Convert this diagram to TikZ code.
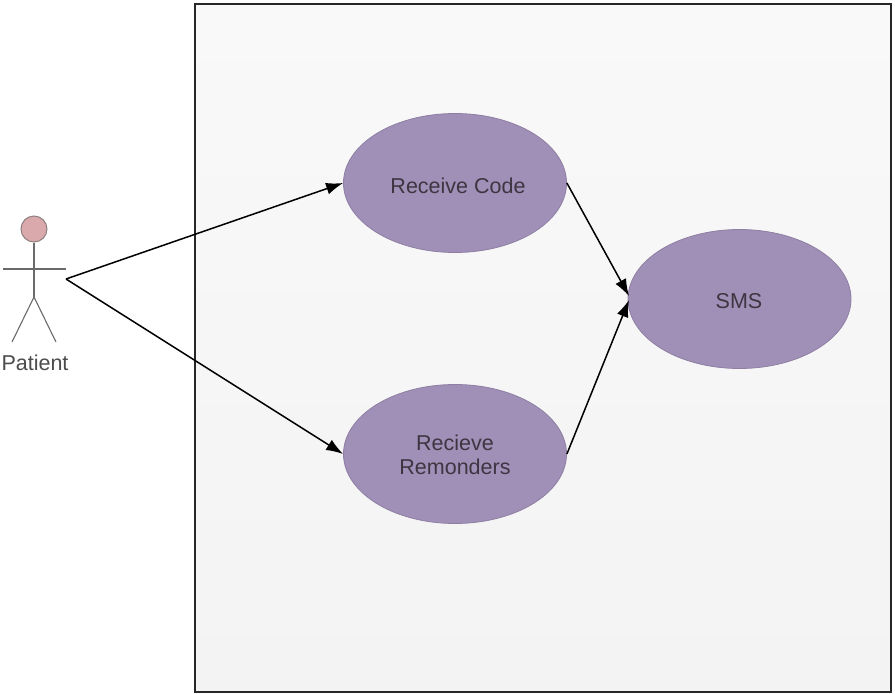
\documentclass[tikz,border=0pt]{standalone}
\usepackage{fontspec}
\setmainfont{Liberation Sans}
\usetikzlibrary{arrows.meta,shapes.geometric}
\definecolor{uc}{HTML}{A08FB6}
\definecolor{ucl}{HTML}{8E7FA3}
\definecolor{txt}{HTML}{3F3542}
\definecolor{ln}{HTML}{6A6A6A}
\definecolor{headfill}{HTML}{D9A9AB}
\definecolor{headline}{HTML}{8F7F80}
\definecolor{boxtop}{HTML}{F9F9F9}
\definecolor{boxbot}{HTML}{F3F3F3}
\tikzset{
 usecase/.style={ellipse,draw=ucl,line width=0.8pt,fill=uc,inner sep=0pt,minimum width=223pt,minimum height=139pt,text=txt,align=center},
 uclabel/.style={text=txt,font=\fontsize{21.5}{24.5}\selectfont,align=center,inner sep=0pt},
 link/.style={draw=black,line width=1.5pt,-{Latex[length=17pt,width=12pt]}},
 stick/.style={draw=ln,line width=1.1pt},
}
\begin{document}
\begin{tikzpicture}[x=1pt,y=-1pt]
\useasboundingbox (0,0) rectangle (895,694);
\fill[white] (0,0) rectangle (895,694);
\node[draw=black!85,line width=1.1pt,top color=boxtop,bottom color=boxbot,minimum width=696pt,minimum height=688pt,inner sep=0pt] (system) at (543,348) {};
\node[usecase] (code) at (455,183) {};
\node[usecase] (rem) at (455,454) {};
\node[usecase] (sms) at (739.5,299) {};
\node[uclabel] (codetext) at (458,186) {Receive Code};
\node[uclabel] (remtext) at (455,455) {Recieve\\Remonders};
\node[uclabel] (smstext) at (739,301) {SMS};
\node[circle,draw=headline,fill=headfill,line width=1pt,minimum size=26pt,inner sep=0pt] (head) at (34,229) {};
\coordinate (hip) at (34,297);
\coordinate (armL) at (3,269);
\coordinate (armR) at (66,269);
\coordinate (footL) at (12,342);
\coordinate (footR) at (56,342);
\coordinate (actor) at (66,279);
\coordinate (smsA) at (629,296);
\coordinate (smsB) at (629,300);
\draw[stick] (head.south) -- (hip);
\draw[stick] (armL) -- (armR);
\draw[stick] (footL) -- (hip) -- (footR);
\node[text=black!70,font=\fontsize{21.5}{24.5}\selectfont,inner sep=0pt] (patient) at (35,363) {Patient};
\draw[link] (actor) -- (code.west);
\draw[link] (actor) -- (rem.west);
\draw[link] (code.east) -- (smsA);
\draw[link] (rem.east) -- (smsB);
\end{tikzpicture}
\end{document}
